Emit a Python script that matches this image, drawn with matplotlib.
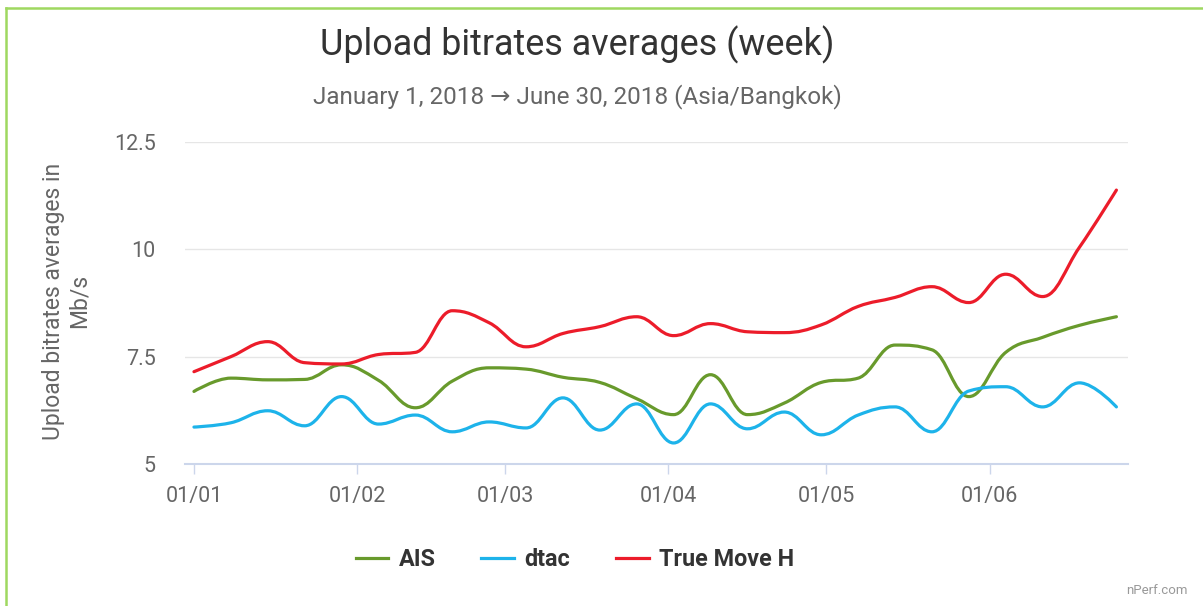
import numpy as np
import matplotlib
matplotlib.use("Agg")
import matplotlib.pyplot as plt
import matplotlib.dates as mdates
from matplotlib.path import Path
from matplotlib.patches import PathPatch
from matplotlib.lines import Line2D

plt.rcParams['font.family'] = ['Roboto', 'DejaVu Sans']

# weekly averages, Mb/s
weeks = np.arange(np.datetime64('2018-01-01'), np.datetime64('2018-06-26'), np.timedelta64(7, 'D'))
ais = [6.69, 7.00, 6.96, 6.97, 7.31, 6.95, 6.31, 6.93, 7.24, 7.21, 7.02, 6.90, 6.52,
       6.15, 7.08, 6.15, 6.42, 6.90, 7.00, 7.77, 7.66, 6.57, 7.60, 7.95, 8.23, 8.43]
dtac = [5.86, 5.96, 6.24, 5.89, 6.57, 5.93, 6.14, 5.75, 5.98, 5.84, 6.54, 5.79, 6.40,
        5.49, 6.40, 5.82, 6.21, 5.68, 6.14, 6.33, 5.75, 6.70, 6.80, 6.33, 6.89, 6.33]
truemove = [7.15, 7.50, 7.85, 7.36, 7.33, 7.55, 7.60, 8.57, 8.29, 7.73, 8.04, 8.20, 8.43,
            7.99, 8.27, 8.08, 8.06, 8.24, 8.67, 8.88, 9.13, 8.76, 9.42, 8.90, 10.05, 11.38]

series_names = ['AIS', 'dtac', 'True Move H']
series_colors = ['#689a2c', '#1db3ea', '#ec1c2a']
yticks = [5, 7.5, 10, 12.5]
ytick_labels = ['5', '7.5', '10', '12.5']
month_ticks = ['2018-01-01', '2018-02-01', '2018-03-01', '2018-04-01', '2018-05-01', '2018-06-01']
month_labels = ['01/01', '01/02', '01/03', '01/04', '01/05', '01/06']


def spline_path(x, y, smoothing=1.5):
    # same control point rule as a Highcharts "spline" series
    x = np.asarray(x, float)
    y = np.asarray(y, float)
    n = len(x)
    lcx, lcy, rcx, rcy = x.copy(), y.copy(), x.copy(), y.copy()
    d = smoothing + 1
    for i in range(1, n - 1):
        px, py = x[i], y[i]
        lx, ly = x[i - 1], y[i - 1]
        nx, ny = x[i + 1], y[i + 1]
        leftX = (smoothing * px + lx) / d
        leftY = (smoothing * py + ly) / d
        rightX = (smoothing * px + nx) / d
        rightY = (smoothing * py + ny) / d
        if rightX != leftX:
            corr = (rightY - leftY) * (rightX - px) / (rightX - leftX) + py - rightY
            leftY += corr
            rightY += corr
        if leftY > ly and leftY > py:
            leftY = max(ly, py)
            rightY = 2 * py - leftY
        elif leftY < ly and leftY < py:
            leftY = min(ly, py)
            rightY = 2 * py - leftY
        if rightY > ny and rightY > py:
            rightY = max(ny, py)
            leftY = 2 * py - rightY
        elif rightY < ny and rightY < py:
            rightY = min(ny, py)
            leftY = 2 * py - rightY
        lcx[i], lcy[i], rcx[i], rcy[i] = leftX, leftY, rightX, rightY
    verts = [(x[0], y[0])]
    codes = [Path.MOVETO]
    for i in range(1, n):
        verts += [(rcx[i - 1], rcy[i - 1]), (lcx[i], lcy[i]), (x[i], y[i])]
        codes += [Path.CURVE4] * 3
    return Path(verts, codes)


W, H = 1203, 606
fig = plt.figure(figsize=(W / 100, H / 100), dpi=100)
ax = fig.add_axes([185 / W, 1 - 464 / H, (1128 - 185) / W, (464 - 142) / H])

xnum = mdates.date2num(weeks.astype('datetime64[D]').astype(object))
for vals, color in zip([ais, dtac, truemove], series_colors):
    ax.add_patch(PathPatch(spline_path(xnum, vals), fill=False, edgecolor=color,
                           linewidth=2.3, capstyle='round', joinstyle='round', zorder=3))

start = mdates.date2num(np.datetime64('2018-01-01').astype(object))
ax.set_xlim(start - 1.7, start + 177.2)
ax.set_ylim(5, 12.5)

ax.set_yticks(yticks)
ax.set_yticklabels(ytick_labels)
ax.set_xticks([mdates.date2num(np.datetime64(d).astype(object)) for d in month_ticks])
ax.set_xticklabels(month_labels)

ax.grid(axis='y', color='#e6e6e6', linewidth=1)
ax.set_axisbelow(True)
for s in ['top', 'right', 'left']:
    ax.spines[s].set_visible(False)
ax.spines['bottom'].set_color('#ccd6eb')
ax.spines['bottom'].set_linewidth(1.5)
ax.tick_params(axis='y', length=0, pad=21, labelsize=15.5, labelcolor='#666666')
ax.tick_params(axis='x', length=7.5, width=1, color='#ccd6eb', pad=8,
               labelsize=15.5, labelcolor='#666666')

fig.text(577 / W, 1 - 45 / H, 'Upload bitrates averages (week)', ha='center', va='center',
         fontsize=25.8, color='#333333')
fig.text(577 / W, 1 - 97 / H, 'January 1, 2018 \u2192 June 30, 2018 (Asia/Bangkok)',
         ha='center', va='center', fontsize=17.5, color='#666666')
fig.text(66 / W, 1 - 301 / H, 'Upload bitrates averages in\nMb/s', rotation=90,
         ha='center', va='center', multialignment='center', fontsize=16.5,
         color='#666666', linespacing=1.15)
fig.text(1188 / W, 1 - 591 / H, 'nPerf.com', ha='right', va='center', fontsize=9.5,
         color='#999999')

handles = [Line2D([], [], color=c, linewidth=2.3) for c in series_colors]
leg = fig.legend(handles, series_names, loc='center', bbox_to_anchor=(575 / W, 1 - 560 / H),
                 ncol=3, frameon=False, handlelength=1.4, handletextpad=0.45,
                 columnspacing=1.95, prop={'size': 16.8, 'weight': 'bold'})
for t in leg.get_texts():
    t.set_color('#333333')

# green frame (left and top edges only, as in the screenshot)
fig.add_artist(Line2D([6 / W, 1], [1 - 8 / H, 1 - 8 / H], color='#9fd860', linewidth=1.8))
fig.add_artist(Line2D([6 / W, 6 / W], [0, 1 - 8 / H], color='#9fd860', linewidth=1.8))

fig.savefig('out.png', dpi=100)
